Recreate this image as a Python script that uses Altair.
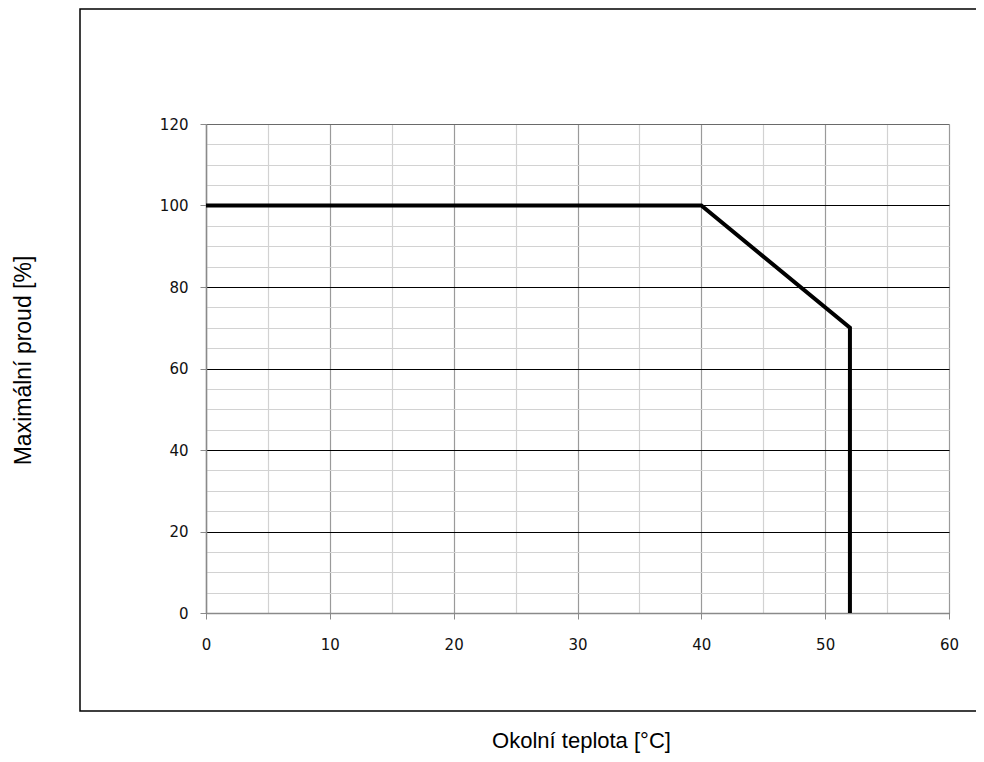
import altair as alt
import pandas as pd

# Data
temp_c = [0, 40, 52, 52]
max_current_pct = [100, 100, 70, 0]
x_ticks = list(range(0, 61, 5))
y_ticks = list(range(0, 121, 5))

df = pd.DataFrame({"i": range(len(temp_c)), "t": temp_c, "p": max_current_pct})

W, H = 743, 489

x_axis = alt.Axis(
    values=x_ticks,
    grid=True,
    gridColor={"condition": {"test": "datum.value % 10 == 0", "value": "#9a9a9a"}, "value": "#d2d2d2"},
    gridWidth=1.2,
    labelExpr="datum.value % 10 == 0 ? datum.label : ''",
    labelFlush=False,
    labelOverlap=False,
    tickOpacity={"condition": {"test": "datum.value % 10 == 0", "value": 1}, "value": 0},
    tickColor="#8a8a8a",
    tickSize=6,
    labelPadding=18,
    labelFont="DejaVu Sans",
    labelFontSize=15,
    labelColor="#111111",
    domainColor="#8a8a8a",
    domainWidth=1.5,
    title="Okolní teplota [°C]",
    titleFont="Liberation Sans",
    titleFontSize=22,
    titleFontWeight="normal",
    titleColor="#000000",
    titleX=375,
    titleY=139,
    titleAlign="center",
    titleBaseline="bottom",
)

y_axis = alt.Axis(
    values=y_ticks,
    grid=True,
    gridColor={"condition": [
        {"test": "datum.value == 120", "value": "#6a6a6a"},
        {"test": "datum.value % 20 == 0", "value": "#000000"},
    ], "value": "#d2d2d2"},
    gridWidth=1.2,
    labelExpr="datum.value % 20 == 0 ? datum.label : ''",
    labelFlush=False,
    labelOverlap=False,
    tickOpacity={"condition": {"test": "datum.value % 20 == 0", "value": 1}, "value": 0},
    tickColor="#8a8a8a",
    tickSize=6,
    labelPadding=12,
    labelFont="DejaVu Sans",
    labelFontSize=15,
    labelColor="#111111",
    domainColor="#8a8a8a",
    domainWidth=1.5,
    title="Maximální proud [%]",
    titleFont="Liberation Sans",
    titleFontSize=23,
    titleFontWeight="normal",
    titleColor="#000000",
    titleAngle=270,
    titleX=-183,
    titleY=236,
    titleAlign="center",
    titleBaseline="middle",
)

line = alt.Chart(df).mark_line(color="black", strokeWidth=4, strokeJoin="miter").encode(
    x=alt.X("t:Q", scale=alt.Scale(domain=[0, 60], nice=False, zero=True), axis=x_axis),
    y=alt.Y("p:Q", scale=alt.Scale(domain=[0, 120], nice=False, zero=True), axis=y_axis),
    order=alt.Order("i:Q"),
)

frame = alt.Chart(alt.Data(values=[{}])).mark_rect(
    fillOpacity=0, stroke="black", strokeWidth=1.5
).encode(
    x=alt.value(-126), x2=alt.value(820),
    y=alt.value(-115), y2=alt.value(587),
)

chart = alt.layer(line, frame).properties(
    width=W, height=H,
    autosize=alt.AutoSizeParams(type="none"),
    padding={"left": 198, "top": 116, "right": 27, "bottom": 140},
).configure_view(stroke=None)

chart.save("out.html", embed_options={"renderer": "svg", "actions": False})
